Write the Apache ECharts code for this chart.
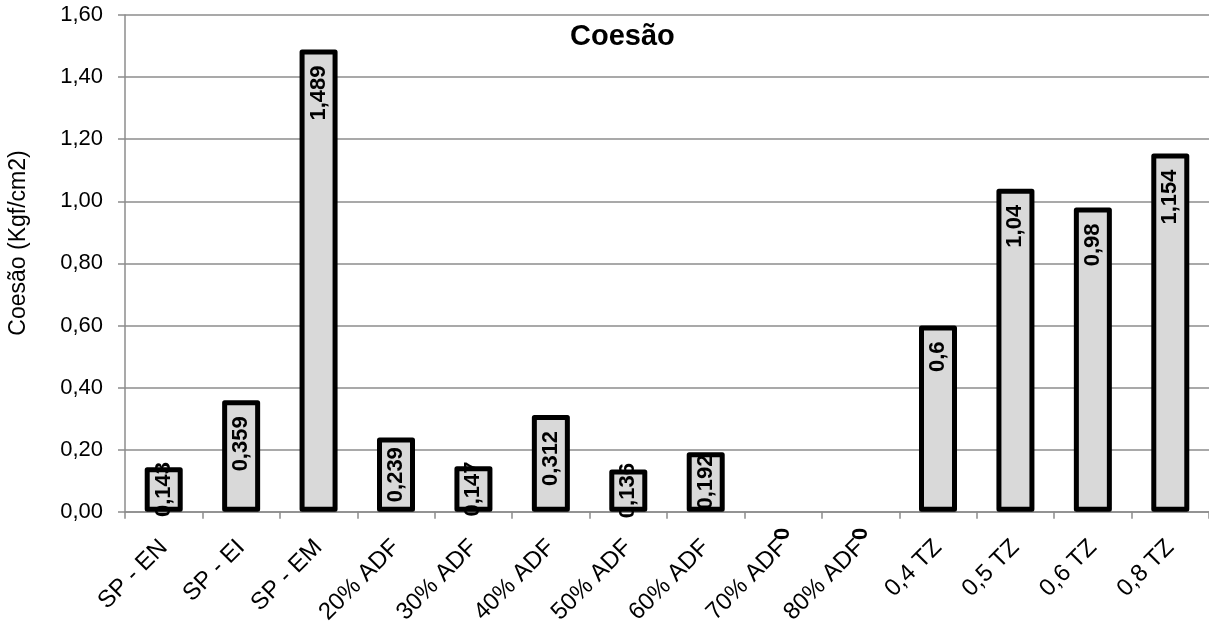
<!DOCTYPE html>
<html>
<head>
<meta charset="utf-8">
<script src="https://cdn.jsdelivr.net/npm/echarts@6/dist/echarts.min.js"></script>
<style>
  html, body { margin: 0; padding: 0; background: #fff; }
  #chart { width: 1209px; height: 627px; }
</style>
</head>
<body>
<div id="chart"></div>
<script>
// Cohesion per sample (Kgf/cm2)
const categories = ['SP - EN', 'SP - EI', 'SP - EM', '20% ADF', '30% ADF', '40% ADF', '50% ADF',
                    '60% ADF', '70% ADF', '80% ADF', '0,4 TZ', '0,5 TZ', '0,6 TZ', '0,8 TZ'];
const coesao = [0.143, 0.359, 1.489, 0.239, 0.147, 0.312, 0.136, 0.192, 0, 0, 0.6, 1.04, 0.98, 1.154];
const yMin = 0, yMax = 1.6, yStep = 0.2;

const FONT = 'Arial, "Liberation Sans", sans-serif';
const comma = v => String(v).replace('.', ',');

// short bars get their value centred on the bar, empty bars draw no outline
const barData = coesao.map(v => {
  const item = { value: v };
  if (v === 0) item.itemStyle = { borderWidth: 0, color: 'rgba(0,0,0,0)' };
  if (v > 0 && v < 0.3) item.label = { position: 'inside', align: 'center', verticalAlign: 'middle' };
  return item;
});

const chart = echarts.init(document.getElementById('chart'), null, { renderer: 'canvas' });
chart.setOption({
  backgroundColor: '#ffffff',
  animation: false,
  title: {
    text: 'Coesão',
    left: 565, top: 17,
    textStyle: { fontFamily: FONT, fontSize: 29, fontWeight: 'bold', color: '#000' }
  },
  graphic: [{
    type: 'text',
    x: 19, y: 243,
    rotation: Math.PI / 2,
    style: {
      text: 'Coesão (Kgf/cm2)',
      font: '23px ' + FONT,
      fill: '#000',
      align: 'center',
      verticalAlign: 'middle'
    }
  }],
  grid: { left: 125, right: 0, top: 15, bottom: 114, containLabel: false },
  xAxis: {
    type: 'category',
    data: categories,
    axisLine: { show: true, lineStyle: { color: '#8c8c8c', width: 1.5 } },
    axisTick: { show: true, length: 7, lineStyle: { color: '#8c8c8c', width: 1.5 } },
    axisLabel: {
      interval: 0, rotate: 45, margin: 32,
      fontFamily: FONT, fontSize: 24, color: '#000'
    }
  },
  yAxis: {
    type: 'value',
    min: yMin, max: yMax, interval: yStep,
    axisLine: { show: true, lineStyle: { color: '#8c8c8c', width: 1.5 } },
    axisTick: { show: true, length: 7, lineStyle: { color: '#8c8c8c', width: 1.5 } },
    splitLine: { show: true, lineStyle: { color: '#8c8c8c', width: 1.5 } },
    axisLabel: {
      margin: 22,
      fontFamily: FONT, fontSize: 22, color: '#000',
      formatter: v => v.toFixed(2).replace('.', ',')
    }
  },
  series: [{
    type: 'bar',
    data: barData,
    barWidth: 38,
    itemStyle: { color: '#d9d9d9', borderColor: '#000', borderWidth: 5, borderJoin: 'round' },
    label: {
      show: true,
      position: 'insideTop',
      distance: 16,
      rotate: 90,
      align: 'right',
      verticalAlign: 'middle',
      fontFamily: FONT, fontSize: 22, fontWeight: 'bold', color: '#000',
      formatter: p => comma(p.value)
    }
  }]
});
</script>
</body>
</html>
